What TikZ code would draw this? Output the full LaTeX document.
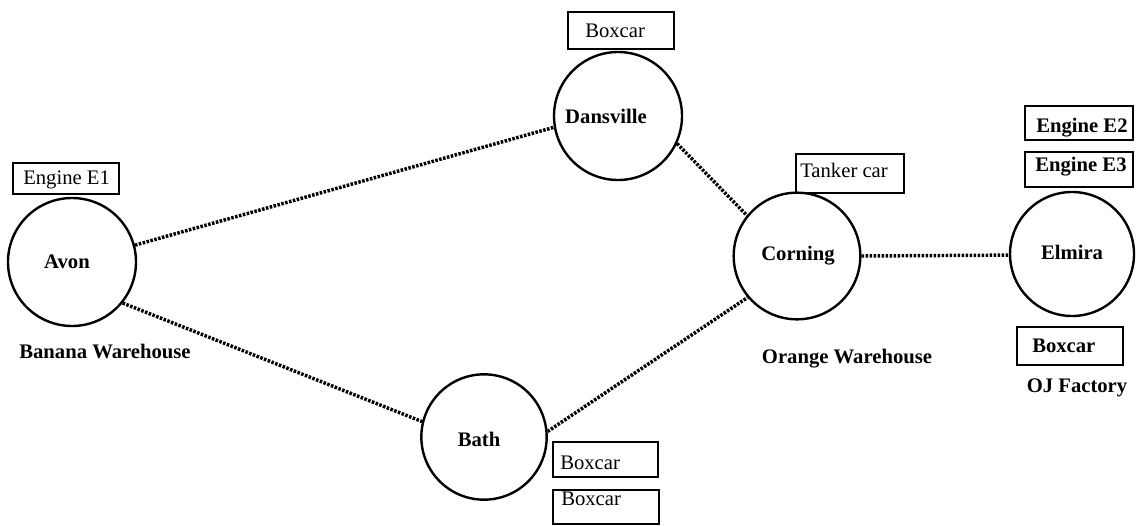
\documentclass[tikz,border=0pt]{standalone}
\usepackage{fontspec}
\setmainfont{Liberation Serif}
\begin{document}
\begin{tikzpicture}[
  x=0.75pt, y=-0.75pt,
  station/.style={circle, draw, line width=1.8pt, minimum size=#1, inner sep=0pt},
  stname/.style={font=\fontsize{15.5}{18}\selectfont\bfseries, anchor=base, inner sep=0pt},
  place/.style={font=\fontsize{15.5}{18}\selectfont\bfseries, anchor=base, inner sep=0pt},
  carbox/.style={draw, line width=1.3pt},
  cartext/.style={font=\fontsize{15.5}{18}\selectfont, anchor=base west, inner sep=0pt},
  carbold/.style={cartext, font=\fontsize{15.5}{18}\selectfont\bfseries},
  track/.style={line width=2.6pt, dash pattern=on 1.9pt off 1.1pt}
]
% canvas
\fill[white] (0,0) rectangle (1144,525);
\useasboundingbox (0,0) rectangle (1144,525);

% stations
\node[station=96pt] (avon) at (72,262) {};
\node[station=96pt] (dansville) at (618,116) {};
\node[station=95pt] (corning) at (797,256) {};
\node[station=94pt] (bath) at (484,437) {};
\node[station=93pt] (elmira) at (1072,254) {};

\node[stname] (avon-t) at (67,268) {Avon};
\node[stname] (dansville-t) at (606,123) {Dansville};
\node[stname] (corning-t) at (798,260) {Corning};
\node[stname] (bath-t) at (479,446) {Bath};
\node[stname] (elmira-t) at (1072,259) {Elmira};

% track between stations
\draw[track] (avon.15) -- (dansville.190);
\draw[track] (avon.-39) -- (bath.166);
\draw[track] (dansville.-25) -- (corning.141);
\draw[track] (bath.5) -- (corning.220);
\draw[track] (corning.0) -- (elmira.181);

% places served
\node[place] (banana) at (105,358) {Banana Warehouse};
\node[place] (orange) at (847,363) {Orange Warehouse};
\node[place] (ojf) at (1077,392) {OJ Factory};

% rolling stock at Avon
\draw[carbox] (13,163) rectangle (119,194);
\node[cartext] (e1) at (23,184) {Engine E1};

% rolling stock at Dansville
\draw[carbox] (568,12) rectangle (674,49);
\node[cartext] (dbox) at (585,37.5) {Boxcar};

% rolling stock at Corning
\draw[carbox] (796,154) rectangle (904,193);
\node[cartext] (tanker) at (800,177) {Tanker car};

% rolling stock at Elmira
\draw[carbox] (1025,106) rectangle (1133,140);
\node[carbold] (e2) at (1036,132) {Engine E2};
\draw[carbox] (1025,152) rectangle (1133,187);
\node[carbold] (e3) at (1035,171) {Engine E3};
\draw[carbox] (1017,327) rectangle (1123,365);
\node[carbold] (ebox) at (1032,352) {Boxcar};

% rolling stock at Bath
\draw[carbox] (553,442) rectangle (658,477);
\node[cartext] (bbox1) at (560,469) {Boxcar};
\draw[carbox] (553,490) rectangle (659,524);
\node[cartext] (bbox2) at (561,505) {Boxcar};
\end{tikzpicture}
\end{document}
